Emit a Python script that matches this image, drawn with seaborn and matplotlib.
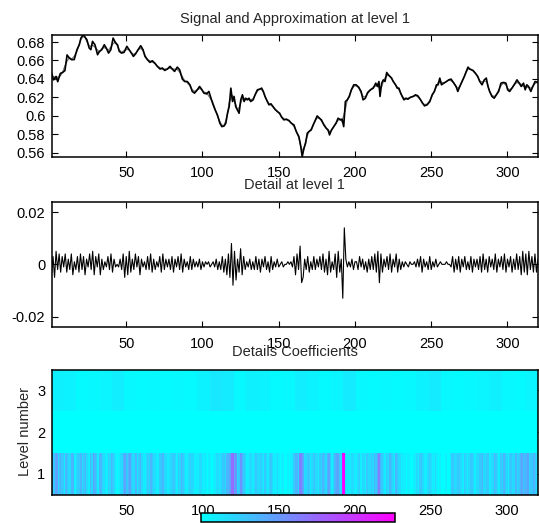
import numpy as np
import pandas as pd
import seaborn as sns
import matplotlib
matplotlib.use("Agg")
import matplotlib.pyplot as plt

# signal (sample index, value)
sig_x = [1, 2.4, 4.0, 5.1, 6.8, 8.3, 9.8, 11.2, 12.7, 14.2, 15.9, 17.7, 19.2, 20.3, 21.8,
         22.9, 24.2, 25.7, 26.8, 27.9, 29.5, 31.2, 32.5, 34.0, 35.6, 36.9, 38.4, 39.9,
         41.4, 43.0, 44.3, 45.4, 46.9, 48.6, 50.4, 51.9, 53.4, 54.7, 56.2, 57.8, 59.5,
         61.0, 62.3, 63.9, 65.6, 67.1, 68.7, 70.4, 72.2, 73.7, 75.2, 77.0, 78.7, 80.2,
         81.7, 83.5, 85.0, 86.8, 88.3, 90.0, 91.8, 93.3, 94.8, 96.6, 98.1, 99.4, 100.9,
         102.7, 104.2, 106.6, 108.3, 109.8, 111.4, 112.7, 114.2, 115.3, 116.4, 117.5,
         118.6, 119.7, 120.7, 121.8, 122.9, 124.0, 125.1, 126.2, 127.3, 128.4, 129.5,
         130.5, 131.6, 133.2, 134.5, 136.0, 137.5, 138.8, 139.9, 141.0, 142.5, 143.6,
         144.9, 146.2, 147.5, 149.1, 150.6, 151.9, 153.4, 155.0, 156.7, 158.2, 160.0,
         161.5, 163.2, 164.3, 165.4, 166.5, 167.6, 168.7, 169.8, 171.3, 172.6, 174.1,
         175.2, 176.7, 178.0, 179.6, 181.1, 182.4, 183.3, 184.6, 186.1, 187.6, 188.9,
         190.5, 191.5, 192.6, 193.7, 195.0, 196.3, 197.6, 199.2, 200.7, 202.4, 204.0,
         205.3, 206.8, 208.3, 210.1, 212.0, 213.6, 214.7, 215.7, 216.4, 217.5, 218.6,
         219.7, 220.8, 221.8, 222.9, 224.0, 225.1, 226.6, 227.7, 228.8, 229.9, 231.0,
         232.1, 233.4, 234.7, 236.4, 238.2, 239.7, 241.2, 243.0, 244.3, 245.6, 247.3,
         249.1, 250.6, 252.1, 253.4, 254.5, 255.6, 256.7, 258.2, 260.0, 261.5, 263.0,
         264.8, 266.3, 267.4, 268.7, 270.2, 271.7, 273.0, 274.1, 275.2, 276.3, 277.4,
         278.9, 280.5, 281.8, 283.3, 284.8, 286.1, 287.2, 288.3, 289.8, 291.3, 292.7,
         294.2, 295.7, 297.4, 299.0, 300.1, 301.4, 302.9, 304.4, 306.2, 307.7, 309.0,
         310.5, 311.6, 312.7, 313.8, 315.3, 316.6, 318.1, 320.0]
sig_y = [0.6463, 0.6390, 0.6427, 0.6370, 0.6460, 0.6470, 0.6490, 0.6660, 0.6626, 0.6608,
         0.6610, 0.6717, 0.6770, 0.6843, 0.6880, 0.6854, 0.6825, 0.6735, 0.6717, 0.6807,
         0.6770, 0.6662, 0.6699, 0.6717, 0.6770, 0.6735, 0.6680, 0.6717, 0.6843, 0.6790,
         0.6770, 0.6699, 0.6680, 0.6688, 0.6753, 0.6717, 0.6680, 0.6644, 0.6673, 0.6717,
         0.6760, 0.6717, 0.6644, 0.6608, 0.6579, 0.6597, 0.6572, 0.6536, 0.6507, 0.6518,
         0.6492, 0.6507, 0.6536, 0.6507, 0.6481, 0.6528, 0.6500, 0.6398, 0.6372, 0.6372,
         0.6336, 0.6264, 0.6246, 0.6282, 0.6318, 0.6289, 0.6246, 0.6238, 0.6264, 0.6137,
         0.6064, 0.6010, 0.5920, 0.5883, 0.5890, 0.5920, 0.6028, 0.6100, 0.6300, 0.6155,
         0.6210, 0.6100, 0.6064, 0.6028, 0.6173, 0.6228, 0.6155, 0.6191, 0.6173, 0.6191,
         0.6155, 0.6173, 0.6228, 0.6282, 0.6289, 0.6300, 0.6264, 0.6210, 0.6155, 0.6119,
         0.6130, 0.6100, 0.6072, 0.6046, 0.6028, 0.5985, 0.5956, 0.5964, 0.5949, 0.5920,
         0.5901, 0.5829, 0.5775, 0.5684, 0.5557, 0.5648, 0.5702, 0.5811, 0.5829, 0.5847,
         0.5901, 0.5956, 0.5999, 0.5974, 0.5956, 0.5901, 0.5865, 0.5847, 0.5793, 0.5847,
         0.5883, 0.5920, 0.5974, 0.5956, 0.5964, 0.5883, 0.6155, 0.6173, 0.6210, 0.6282,
         0.6336, 0.6336, 0.6311, 0.6264, 0.6173, 0.6191, 0.6253, 0.6282, 0.6300, 0.6354,
         0.6318, 0.6372, 0.6210, 0.6354, 0.6390, 0.6372, 0.6470, 0.6445, 0.6427, 0.6409,
         0.6372, 0.6336, 0.6300, 0.6300, 0.6246, 0.6210, 0.6173, 0.6191, 0.6180, 0.6202,
         0.6210, 0.6228, 0.6217, 0.6173, 0.6137, 0.6108, 0.6119, 0.6155, 0.6228, 0.6264,
         0.6336, 0.6336, 0.6409, 0.6336, 0.6354, 0.6372, 0.6390, 0.6398, 0.6354, 0.6318,
         0.6264, 0.6318, 0.6372, 0.6427, 0.6481, 0.6528, 0.6507, 0.6500, 0.6492, 0.6463,
         0.6427, 0.6372, 0.6336, 0.6390, 0.6409, 0.6318, 0.6264, 0.6210, 0.6191, 0.6228,
         0.6264, 0.6354, 0.6362, 0.6354, 0.6282, 0.6264, 0.6300, 0.6336, 0.6390, 0.6354,
         0.6318, 0.6354, 0.6282, 0.6336, 0.6318, 0.6264, 0.6318, 0.6372, 0.6362]

# level 1 detail, one value per sample (units of 1e-3)
detail_milli = [
    -4, 3, -5, 5, -2, 4, -3, 3, -1, 4, -3, 2, -2, 4, -4, 1, -2, 3, -3, 4,
    -2, 3, -4, 2, -1, 4, -2, 5, -4, 3, -1, 4, -4, 2, -2, 1, -1, 3, -2, 4,
    -3, 2, -1, 0, -1, 2, -2, 4, -5, 3, -4, 5, -3, 2, -2, 4, -1, 3, -4, 2,
    -1, 1, -2, 3, -2, 4, -3, 2, -2, 1, -1, 3, -3, 4, -2, 2, -1, 2, -2, 3,
    -3, 2, -1, 3, -2, 4, -3, 2, -1, 1, -2, 3, -2, 2, -1, 1, -1, 2, -2, 1,
    -1, 1, 0, 1, -1, 0, 1, -1, 2, -2, 1, -2, 3, -3, 2, -4, 4, -5, 8, -8,
    5, -6, 2, -3, 6, -4, 3, -2, 1, -1, 2, -2, 1, -2, 3, -2, 2, -3, 2, -1,
    3, -2, 1, -3, 3, -2, 1, -1, 2, -1, 0, 1, -1, 0, 0, 1, 0, 1, -1, 3,
    -4, 4, -2, 7, -7, -5, 2, -2, 3, -3, 1, -2, 3, -2, 2, -1, 3, -2, 4, -3,
    2, -4, 5, -3, 1, -2, 4, -5, 5, -3, 2, -13, 14, 2, -1, 1, -1, 2, -2, 1,
    1, -2, 3, -1, 2, -2, 1, -3, 2, -2, 3, -2, 4, -3, 5, -7, 4, -3, 2, -1,
    3, -2, 4, -3, 2, -1, 4, -3, 2, -2, 1, -1, 1, 0, -1, 1, 0, 0, 1, -1,
    2, -1, 3, -3, 2, -1, 1, -2, 3, -2, 1, -1, 2, -1, 0, 1, 0, 0, 0, 1,
    0, 0, -1, 3, -3, 2, -2, 3, -3, 2, -1, 3, -2, 1, -2, 3, -3, 2, -1, 2,
    -2, 3, -3, 4, -2, 2, -3, 3, -1, 2, -2, 4, -3, 2, -1, 3, -2, 4, -3, 2,
    -1, 3, -3, 2, -2, 4, -2, 3, -4, 5, -3, 4, -4, 5, -2, 3, -3, 4, -3, 2,
]

# colour levels of the coefficient image (0..1 of the colormap)
level3_blocks = [0.06, 0.05, 0.02, 0.03, 0.04, 0.07, 0.03, 0.02, 0.03, 0.02,
                 0.03, 0.02, 0.05, 0.09, 0.08, 0.03, 0.06, 0.05, 0.02, 0.03,
                 0.07, 0.05, 0.02, 0.04, 0.08, 0.03, 0.02, 0.03, 0.02, 0.03,
                 0.05, 0.08, 0.03, 0.02, 0.03, 0.04, 0.06, 0.03, 0.02, 0.04]
level2_blocks = [0.0] * 80

x_ticks = [50, 100, 150, 200, 250, 300]
sig_ticks = [0.56, 0.58, 0.60, 0.62, 0.64, 0.66, 0.68]
det_ticks = [-0.02, 0, 0.02]
level_labels = ["3", "2", "1"]

sns.set_style("white")
plt.rcParams["font.family"] = ["Liberation Sans", "DejaVu Sans"]
FS = 10.5

W, H = 539, 523
fig = plt.figure(figsize=(W / 100, H / 100), dpi=100)


def box(l, t, r, b):
    return [l / W, 1 - b / H, (r - l) / W, (b - t) / H]


def matlab_look(ax):
    ax.tick_params(direction="in", bottom=True, left=True, top=True, right=True,
                   length=4, width=0.8, labelsize=FS, colors="black")
    ax.tick_params(axis="x", pad=7)
    ax.tick_params(axis="y", pad=4.5)
    for sp in ax.spines.values():
        sp.set_visible(True)
        sp.set_color("black")
        sp.set_linewidth(1.1)


ax1 = fig.add_axes(box(51.5, 35, 538, 156.7))
ax2 = fig.add_axes(box(51.5, 201.7, 538, 327))
ax3 = fig.add_axes(box(51.5, 369.5, 538, 494.5))
cax = fig.add_axes(box(201, 513, 395, 522))

# top: signal and approximation
approx = pd.Series(sig_y).rolling(3, center=True, min_periods=1).mean()
sns.lineplot(x=sig_x, y=approx.values, ax=ax1, color="0.45", linewidth=0.9)
sns.lineplot(x=sig_x, y=sig_y, ax=ax1, color="black", linewidth=1.2)
ax1.set_xlim(1, 320)
ax1.set_ylim(0.5557, 0.6876)
ax1.set_xticks(x_ticks)
ax1.set_yticks(sig_ticks)
ax1.set_yticklabels(["%g" % v for v in sig_ticks])
ax1.set_xlabel("")
ax1.set_ylabel("")
ax1.set_title("Signal and Approximation at level 1", fontsize=FS, pad=8.5)
matlab_look(ax1)

# middle: detail
detail = np.array(detail_milli) * 1e-3
samples = np.arange(1, len(detail) + 1)
sns.lineplot(x=samples, y=detail, ax=ax2, color="black", linewidth=0.8)
ax2.set_xlim(1, 320)
ax2.set_ylim(-0.024, 0.024)
ax2.set_xticks(x_ticks)
ax2.set_yticks(det_ticks)
ax2.set_yticklabels(["%g" % v for v in det_ticks])
ax2.set_xlabel("")
ax2.set_ylabel("")
ax2.set_title("Detail at level 1", fontsize=FS, pad=9.5)
matlab_look(ax2)

# bottom: coefficient image
level1 = np.abs(detail) / np.abs(detail).max()
coefs = np.vstack([np.repeat(level3_blocks, 8), np.repeat(level2_blocks, 4), level1])
sns.heatmap(coefs, ax=ax3, cmap="cool", vmin=0, vmax=1, cbar_ax=cax,
            cbar_kws={"orientation": "horizontal"}, xticklabels=False, yticklabels=False)
ax3.set_xticks([v - 0.5 for v in x_ticks])
ax3.set_xticklabels([str(v) for v in x_ticks], rotation=0)
ax3.set_yticks([0.5, 1.5, 2.5])
ax3.set_yticklabels(level_labels, rotation=0)
ax3.set_ylabel("Level number", fontsize=FS)
ax3.set_xlabel("")
ax3.set_title("Details Coefficients", fontsize=FS, pad=9.5)
matlab_look(ax3)

cbar = ax3.collections[0].colorbar
cbar.set_ticks([])
cbar.outline.set_edgecolor("black")
cbar.outline.set_linewidth(1.1)

fig.savefig("out.png", dpi=100)
